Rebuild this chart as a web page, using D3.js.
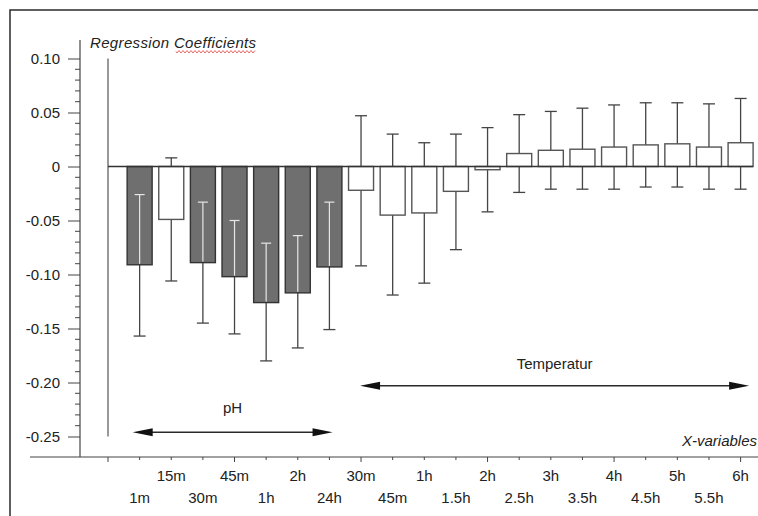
<!DOCTYPE html>
<html><head><meta charset="utf-8">
<script src="https://cdn.jsdelivr.net/npm/d3@7"></script>
<style>
html,body{margin:0;padding:0;background:#fff;}
svg{display:block;font-family:"Liberation Sans",Arial,sans-serif;}
</style></head>
<body>
<svg id="chart" width="758" height="516"></svg>
<script>
// ---- data ----
const categories = ["1m","15m","30m","45m","1h","2h","24h","30m","45m","1h","1.5h","2h","2.5h","3h","3.5h","4h","4.5h","5h","5.5h","6h"];
const shaded = [1,0,1,1,1,1,1,0,0,0,0,0,0,0,0,0,0,0,0,0];
const values = [-0.091,-0.049,-0.089,-0.102,-0.126,-0.117,-0.093,-0.022,-0.045,-0.043,-0.023,-0.003,0.012,0.015,0.016,0.018,0.020,0.021,0.018,0.022];
const lower  = [-0.157,-0.106,-0.145,-0.155,-0.180,-0.168,-0.151,-0.092,-0.119,-0.108,-0.077,-0.042,-0.024,-0.021,-0.021,-0.021,-0.019,-0.019,-0.021,-0.021];
const upper  = [-0.026,0.008,-0.033,-0.050,-0.071,-0.064,-0.033,0.047,0.030,0.022,0.030,0.036,0.048,0.051,0.054,0.057,0.059,0.059,0.058,0.063];
const yMajorTicks = [0.10,0.05,0,-0.05,-0.10,-0.15,-0.20,-0.25];
const yTickLabels = ["0.10","0.05","0","-0.05","-0.10","-0.15","-0.20","-0.25"];
const groups = [{name:"pH", from:0.78, to:7.1, level:-0.246, labelLevel:-0.2285},
                {name:"Temperatur", from:7.97, to:20.27, level:-0.203, labelLevel:-0.1875}];

// ---- scales ----
const svg = d3.select("#chart");
const x = d3.scaleLinear().domain([0,20]).range([108,740.6]);
const y = d3.scaleLinear().domain([-0.25,0.10]).range([436.5,58.5]);
const barW = 25;
const ink = "#2a2a2a";

// frame
svg.append("path").attr("d","M10,516 V10 H758").attr("fill","none").attr("stroke",ink).attr("stroke-width",1.5);

// y axis
const yAxisG = svg.append("g").attr("transform","translate(80,0)");
yAxisG.append("line").attr("x1",0).attr("x2",0).attr("y1",40).attr("y2",457).attr("stroke","#444").attr("stroke-width",1.2);
const minor = d3.range(-25,11).map(d=>d/100).filter(v=>Math.abs(Math.round(v*100)%5)!==0);
yAxisG.selectAll("line.minor").data(minor).join("line").attr("class","minor")
  .attr("x1",-5).attr("x2",0).attr("y1",d=>y(d)).attr("y2",d=>y(d)).attr("stroke","#444");
const yAxis = d3.axisLeft(y).tickValues(yMajorTicks).tickSize(12).tickPadding(8)
  .tickFormat((d,i)=>yTickLabels[i]);
const ya = yAxisG.append("g").call(yAxis);
ya.select(".domain").remove();
ya.selectAll(".tick line").attr("stroke","#444");
ya.selectAll(".tick text").attr("font-size",15).attr("fill","#222").attr("font-family","Liberation Sans, Arial, sans-serif");

svg.append("text").attr("x",90).attr("y",48).attr("font-size",15).attr("font-style","italic").attr("fill","#222")
  .attr("letter-spacing","0.35").text("Regression Coefficients");
// spell-check squiggle
let sq = "M176,51.5";
for (let px=176; px<255; px+=2) sq += ` L${px+1},${(px/2)%2===0?53:50.5}`;
svg.append("path").attr("d",sq).attr("fill","none").attr("stroke","#d44").attr("stroke-width",0.8);

// x axis
const xAxisG = svg.append("g").attr("transform","translate(0,457)");
xAxisG.append("line").attr("x1",30).attr("x2",758).attr("y1",0).attr("y2",0).attr("stroke","#444").attr("stroke-width",1.2);
xAxisG.selectAll("line.xt").data(d3.range(0,21)).join("line").attr("class","xt")
  .attr("x1",d=>x(d)).attr("x2",d=>x(d)).attr("y1",0).attr("y2",d=>d%4===0?5:3).attr("stroke","#444");
xAxisG.selectAll("text.xl").data(categories).join("text").attr("class","xl")
  .attr("x",(d,i)=>x(i+1)).attr("y",(d,i)=>(i%2===1)?24:46)
  .attr("text-anchor","middle").attr("font-size",15).attr("fill","#222").text(d=>d);
svg.append("text").attr("x",757).attr("y",446).attr("text-anchor","end").attr("font-size",15).attr("font-style","italic").attr("fill","#222")
  .text("X-variables");

// reference vertical line
svg.append("line").attr("x1",x(0)).attr("x2",x(0)).attr("y1",y(0.10)).attr("y2",y(-0.25)).attr("stroke","#777").attr("stroke-width",1.5);

// error bars (behind)
const idx = d3.range(categories.length);
const eb = svg.append("g").attr("stroke","#444").attr("stroke-width",1.3);
eb.selectAll("line.v").data(idx).join("line").attr("x1",i=>x(i+1)).attr("x2",i=>x(i+1))
  .attr("y1",i=>y(upper[i])).attr("y2",i=>y(lower[i]));
eb.selectAll("line.cu").data(idx).join("line").attr("x1",i=>x(i+1)-6).attr("x2",i=>x(i+1)+6)
  .attr("y1",i=>y(upper[i])).attr("y2",i=>y(upper[i]));
eb.selectAll("line.cl").data(idx).join("line").attr("x1",i=>x(i+1)-6).attr("x2",i=>x(i+1)+6)
  .attr("y1",i=>y(lower[i])).attr("y2",i=>y(lower[i]));

// bars
svg.append("g").selectAll("rect").data(idx).join("rect")
  .attr("x",i=>x(i+1)-barW/2).attr("width",barW)
  .attr("y",i=>Math.min(y(0),y(values[i]))).attr("height",i=>Math.max(1.5,Math.abs(y(values[i])-y(0))))
  .attr("fill",i=>shaded[i]?"#6f6f6f":"#fff").attr("stroke",i=>shaded[i]?"#333":"#555").attr("stroke-width",1.4);

// light error segments inside shaded bars
const inner = idx.filter(i=>shaded[i]);
const ib = svg.append("g").attr("stroke","#e6e6e6").attr("stroke-width",1.2);
ib.selectAll("line.v").data(inner).join("line").attr("x1",i=>x(i+1)).attr("x2",i=>x(i+1))
  .attr("y1",i=>y(Math.min(upper[i],0))).attr("y2",i=>y(values[i])-1);
ib.selectAll("line.c").data(inner.filter(i=>upper[i]<0)).join("line").attr("x1",i=>x(i+1)-5).attr("x2",i=>x(i+1)+5)
  .attr("y1",i=>y(upper[i])).attr("y2",i=>y(upper[i]));

// zero line
svg.append("line").attr("x1",x(0)).attr("x2",x(20)+barW/2).attr("y1",y(0)).attr("y2",y(0)).attr("stroke","#333").attr("stroke-width",1.4);

// group arrows
const ag = svg.append("g");
groups.forEach(g=>{
  const x1=x(g.from), x2=x(g.to), yy=y(g.level);
  ag.append("line").attr("x1",x1+10).attr("x2",x2-10).attr("y1",yy).attr("y2",yy).attr("stroke",ink).attr("stroke-width",1.6);
  ag.append("path").attr("d",`M${x1},${yy} L${x1+20},${yy-4} L${x1+20},${yy+4} Z`).attr("fill","#111");
  ag.append("path").attr("d",`M${x2},${yy} L${x2-20},${yy-4} L${x2-20},${yy+4} Z`).attr("fill","#111");
  ag.append("text").attr("x",(x1+x2)/2).attr("y",y(g.labelLevel)).attr("text-anchor","middle")
    .attr("font-size",15).attr("fill","#222").text(g.name);
});
</script>
</body></html>
